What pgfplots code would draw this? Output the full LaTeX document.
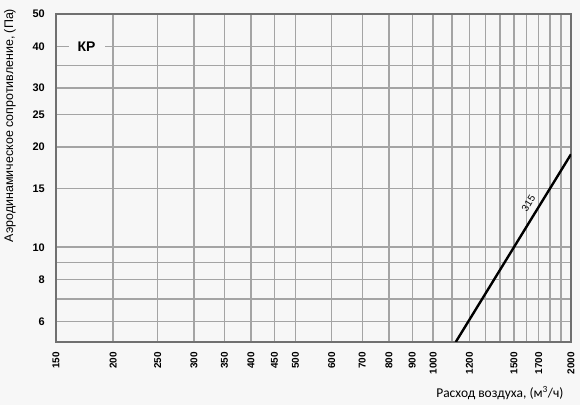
\documentclass[border=0pt]{standalone}
\usepackage{fontspec}
\setmainfont{Liberation Sans}
\newfontfamily\calib{Carlito}
\usepackage{pgfplots}
\pgfplotsset{compat=1.18}
\definecolor{bg}{HTML}{F7F7F7}
\definecolor{gridc}{HTML}{A4A4A4}
\definecolor{framec}{HTML}{707070}
\begin{document}
\begin{tikzpicture}
\useasboundingbox (0,0) rectangle (580bp,405bp);
\fill[bg] (0,0) rectangle (580bp,405bp);
\begin{axis}[
    at={(56bp,63bp)}, anchor=south west,
    scale only axis, width=515bp, height=328bp,
    xmode=log, ymode=log,
    xmin=150, xmax=2000, ymin=5.2, ymax=50,
    xtick={150,200,250,300,350,400,450,500,600,700,800,900,1000,1200,1500,1700,2000},
    xticklabels={150,200,250,300,350,400,450,500,600,700,800,900,1000,1200,1500,1700,2000},
    minor xtick={1100,1300,1400,1600,1800,1900},
    ytick={6,8,10,15,20,25,30,40,50},
    yticklabels={6,8,10,15,20,25,30,40,50},
    minor ytick={7,9,35},
    grid=both,
    grid style={draw=gridc, line width=1.5bp},
    minor grid style={draw=gridc, line width=1.5bp},
    major tick length=0pt, minor tick length=0pt,
    axis line style={draw=framec, line width=1.3bp},
    tick label style={inner sep=0pt},
    xticklabel style={rotate=90, anchor=east, font=\fontsize{10}{11}\selectfont\bfseries},
    yticklabel style={anchor=east, font=\fontsize{11}{12}\selectfont\bfseries},
    xticklabel shift=10bp, yticklabel shift=11bp,
    xlabel={\calib Расход воздуха, (м\textsuperscript{3}/ч)},
    xlabel style={at={(rel axis cs:0.862,-0.155)}, anchor=center, font=\fontsize{13.5}{15}\selectfont},
    ylabel={Аэродинамическое сопротивление, (Па)},
    ylabel style={at={(rel axis cs:-0.0893,0.66)}, anchor=center, rotate=0, font=\fontsize{12.5}{14}\selectfont},
    clip=true,
]
\addplot[black, line width=2.4bp] coordinates {(1120,5.2) (2000,19)};
\node[rotate=58, anchor=south, inner sep=0pt, yshift=7bp, font=\fontsize{10}{11}\selectfont] at (axis cs:1690,13.0) {315};
\node[fill=bg, inner xsep=9bp, inner ysep=2bp, font=\fontsize{14}{15}\selectfont\bfseries] at (axis cs:175,40) {КР};
\end{axis}
\end{tikzpicture}
\end{document}
